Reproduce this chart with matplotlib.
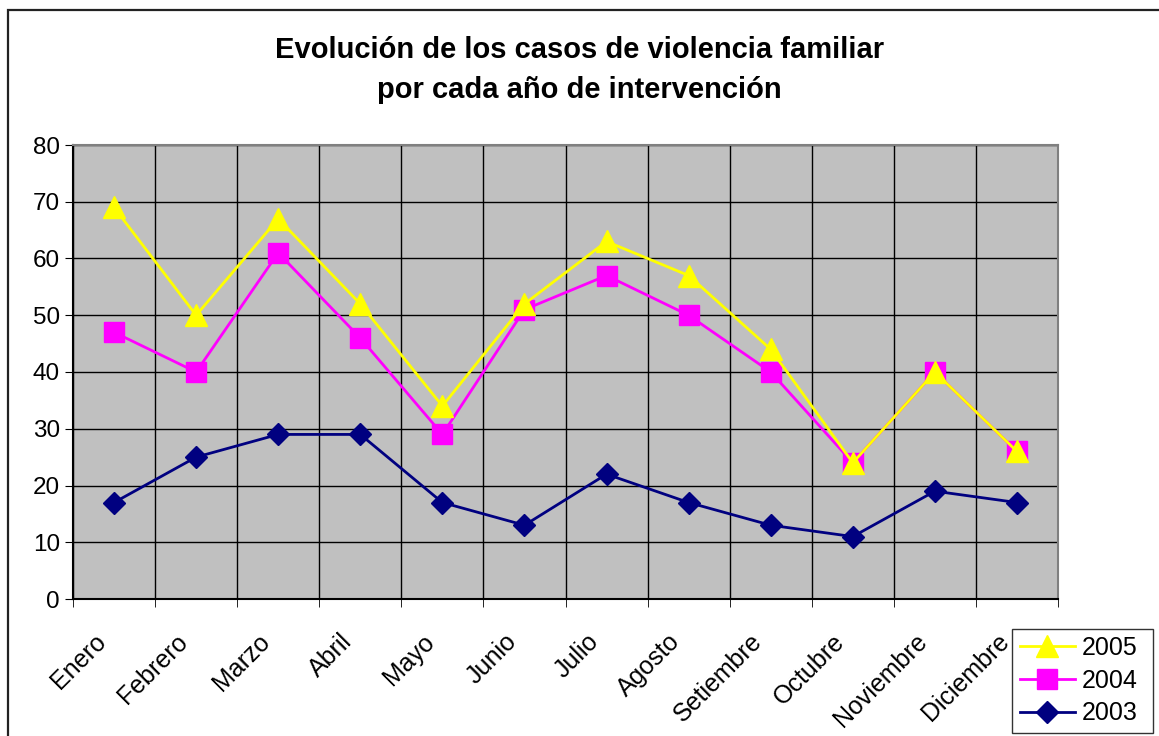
import matplotlib.pyplot as plt
from matplotlib.patches import Rectangle
from matplotlib.transforms import ScaledTranslation
import numpy as np

meses = ['Enero', 'Febrero', 'Marzo', 'Abril', 'Mayo', 'Junio', 'Julio',
         'Agosto', 'Setiembre', 'Octubre', 'Noviembre', 'Diciembre']
casos_2005 = [69, 50, 67, 52, 34, 52, 63, 57, 44, 24, 40, 26]
casos_2004 = [47, 40, 61, 46, 29, 51, 57, 50, 40, 24, 40, 26]
casos_2003 = [17, 25, 29, 29, 17, 13, 22, 17, 13, 11, 19, 17]

plt.rcParams['font.family'] = ['Liberation Sans', 'DejaVu Sans']

fig = plt.figure(figsize=(11.59, 7.36), dpi=100, facecolor='white')
ax = fig.add_axes([73/1159, 1-599/736, (1058-73)/1159, (599-145)/736])
ax.set_facecolor('#c0c0c0')

x = np.arange(len(meses))
ax.plot(x, casos_2005, color='#ffff00', lw=2, marker='^', ms=16, label='2005', zorder=5)
ax.plot(x, casos_2004, color='#ff00ff', lw=2, marker='s', ms=15, label='2004', zorder=4)
ax.plot(x, casos_2003, color='#000080', lw=2, marker='D', ms=11, label='2003', zorder=3)

ax.set_xlim(-0.5, len(meses) - 0.5)
ax.set_ylim(0, 80)
ax.set_yticks(range(0, 81, 10))
ax.set_xticks(x)
ax.set_xticklabels(meses, rotation=45, ha='right', va='center',
                   rotation_mode='anchor', fontsize=18)
ax.tick_params(axis='x', length=0, pad=26)
# desplazar etiquetas un poco a la izquierda como en Excel
desp = ScaledTranslation(-0.12, -0.03, fig.dpi_scale_trans)
for lab in ax.get_xticklabels():
    lab.set_transform(lab.get_transform() + desp)
ax.set_xticks(np.arange(-0.5, len(meses), 1), minor=True)
ax.tick_params(axis='x', which='minor', length=6, color='black')
ax.tick_params(axis='y', labelsize=17.5, length=6, color='black')
ax.grid(True, which='major', axis='y', color='black', lw=1)
ax.grid(True, which='minor', axis='x', color='black', lw=1)
ax.set_axisbelow(True)
for s in ax.spines.values():
    s.set_color('#808080')
    s.set_linewidth(1.5)
ax.spines['left'].set_color('black')
ax.spines['bottom'].set_color('black')

fig.text(0.5, 1-50/736, 'Evolución de los casos de violencia familiar',
         ha='center', va='center', fontsize=21, fontweight='bold')
fig.text(0.5, 1-90/736, 'por cada año de intervención',
         ha='center', va='center', fontsize=21, fontweight='bold')

leg = ax.legend(loc='lower left', bbox_to_anchor=(1012/1159, 3/736, 141/1159, 109/736),
                bbox_transform=fig.transFigure, mode='expand', fontsize=18,
                frameon=True, fancybox=False, edgecolor='black', borderaxespad=0,
                handlelength=2.2, handletextpad=0.3, labelspacing=0.35, borderpad=0.3)
leg.get_frame().set_linewidth(1)

fig.patches.append(Rectangle((8/1159, -0.05), 1.1, 1-10/736+0.05, transform=fig.transFigure,
                             fill=False, edgecolor='#222222', lw=1.6))

fig.savefig('out.png', dpi=100)
